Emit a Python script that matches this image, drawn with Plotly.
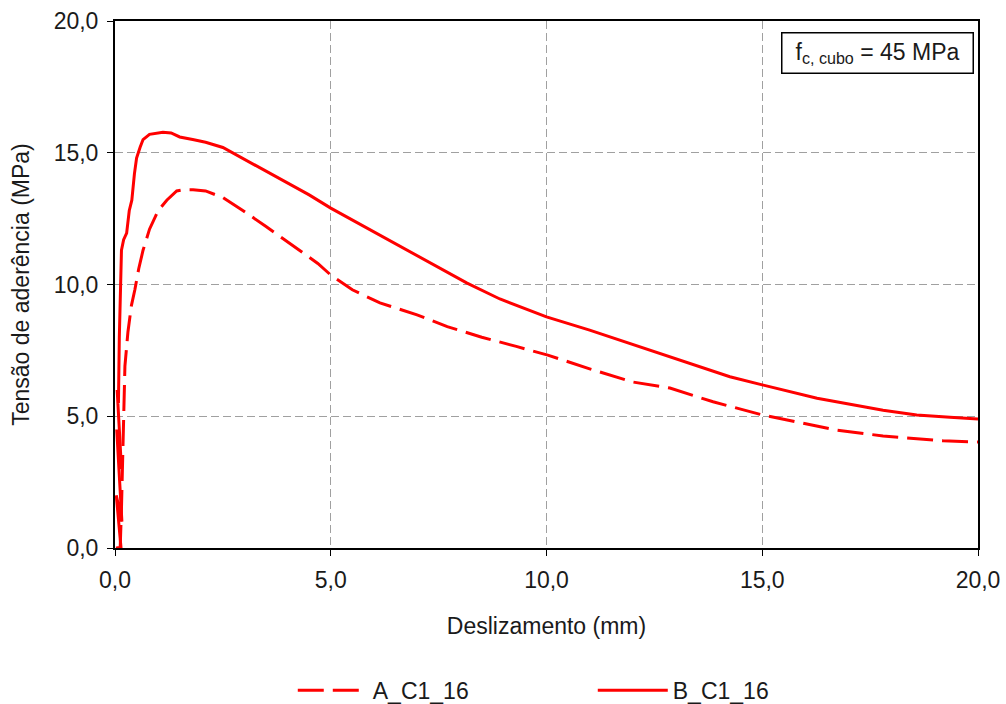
import plotly.graph_objects as go

# Series A_C1_16 (dashed)
a_x = [0.05, 0.12, 0.15, 0.18, 0.20, 0.23, 0.30, 0.38, 0.46, 0.55, 0.65, 0.80, 1.0, 1.2, 1.43,
       1.6, 1.81, 2.1, 2.5, 2.97, 3.5, 4.29, 4.7, 5.0, 5.5, 6.14, 7.0, 7.7, 8.5, 9.3, 10.03,
       11.0, 12.0, 12.86, 13.56, 13.86, 15.0, 15.8, 16.7, 17.8, 18.6, 19.19, 20.0]
a_y = [0.0, 0.0, 1.5, 4.0, 5.5, 6.9, 8.2, 9.2, 9.8, 10.6, 11.3, 12.1, 12.8, 13.2, 13.55,
       13.6, 13.6, 13.55, 13.3, 12.8, 12.2, 11.3, 10.8, 10.36, 9.8, 9.3, 8.85, 8.4, 8.0, 7.65, 7.32,
       6.8, 6.3, 6.07, 5.7, 5.55, 5.05, 4.79, 4.48, 4.25, 4.13, 4.07, 4.02]

# Series B_C1_16 (solid); the first points trace the loading/unloading band near zero slip
b_x = [0.02, 0.14, 0.03, 0.16, 0.04, 0.15, 0.05, 0.08, 0.10, 0.12, 0.15, 0.20, 0.27, 0.33,
       0.39, 0.45, 0.50, 0.58, 0.65, 0.80, 0.95, 1.11, 1.3, 1.5, 1.8, 2.1, 2.5, 3.0, 3.5, 4.0,
       4.5, 5.0, 5.5, 6.0, 6.5, 7.0, 7.5, 8.16, 8.92, 10.0, 11.0, 12.0, 12.4, 13.33, 13.56,
       14.25, 15.0, 16.27, 17.8, 18.58, 19.35, 20.0]
b_y = [0.0, 0.0, 2.0, 1.0, 4.5, 3.0, 6.0, 5.5, 8.0, 10.0, 11.3, 11.7, 11.95, 12.8,
       13.2, 14.2, 14.8, 15.2, 15.5, 15.7, 15.75, 15.78, 15.75, 15.6, 15.5, 15.4, 15.2, 14.75, 14.3, 13.85,
       13.4, 12.9, 12.45, 12.0, 11.55, 11.1, 10.65, 10.05, 9.45, 8.77, 8.27, 7.72, 7.5, 6.98, 6.87,
       6.5, 6.19, 5.68, 5.23, 5.05, 4.96, 4.9]

x_ticks = [0, 5, 10, 15, 20]
y_ticks = [0, 5, 10, 15, 20]

RED = "#ff0000"
TXT = "#1a1a1a"
FONT = "Liberation Sans, Arial, sans-serif"
FS = 23

fig = go.Figure()
fig.add_trace(go.Scatter(x=a_x, y=a_y, mode="lines", name="A_C1_16",
                         line=dict(color=RED, width=3, dash="26px,9px")))
fig.add_trace(go.Scatter(x=b_x, y=b_y, mode="lines", name="B_C1_16",
                         line=dict(color=RED, width=3)))

axis_common = dict(
    showline=True, linecolor="black", linewidth=2, mirror=True,
    showgrid=True, gridcolor="#a0a0a0", gridwidth=1, griddash="8px,4px",
    zeroline=False, ticks="outside", ticklen=6, tickcolor="black", tickwidth=1,
    tickformat=".1f", tickfont=dict(size=FS, color=TXT, family=FONT),
    automargin=False,
)

fig.update_xaxes(range=[0, 20], tickvals=x_ticks, ticklabelstandoff=4,
                 title=dict(text="Deslizamento (mm)", font=dict(size=FS, color=TXT, family=FONT), standoff=26),
                 **axis_common)
fig.update_yaxes(range=[0, 20], tickvals=y_ticks, ticklabelstandoff=4,
                 title=dict(text="Tensão de aderência (MPa)", font=dict(size=FS, color=TXT, family=FONT), standoff=18),
                 **axis_common)

fig.add_annotation(
    xref="paper", yref="paper", x=0.884, y=0.940, xanchor="center", yanchor="middle",
    text="f<sub>c, cubo</sub> = 45 MPa", showarrow=False,
    font=dict(size=FS, color=TXT, family=FONT),
    bordercolor="black", borderwidth=1.5, borderpad=3, bgcolor="white",
    width=184, height=33,
)

fig.update_layout(
    width=1006, height=704,
    margin=dict(l=115, r=28, t=21, b=156, autoexpand=False),
    paper_bgcolor="white", plot_bgcolor="white",
    separators=",.",
    font=dict(family=FONT, size=FS, color=TXT),
    legend=dict(orientation="h", x=0.206, xanchor="left", y=-0.27, yanchor="middle",
                itemwidth=70, entrywidth=215, font=dict(size=FS, color=TXT, family=FONT)),
    showlegend=True,
)

fig.write_html("out.html")
